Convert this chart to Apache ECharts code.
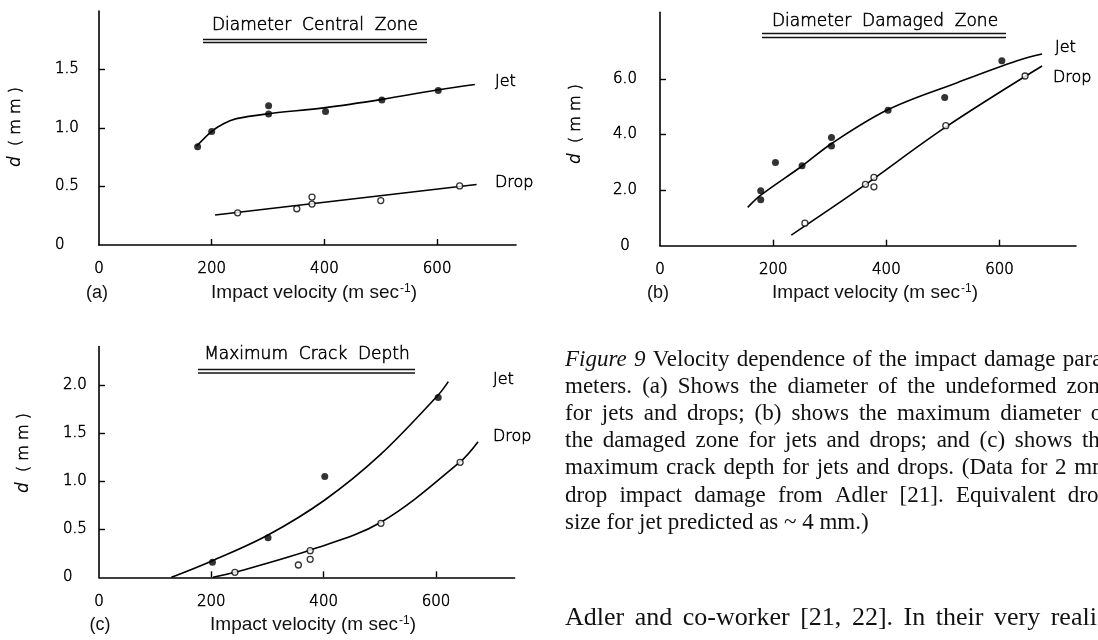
<!DOCTYPE html>
<html><head><meta charset="utf-8">
<script src="https://cdn.jsdelivr.net/npm/echarts@6/dist/echarts.min.js"></script>
<style>html,body{margin:0;padding:0;background:#fff}#c{width:1098px;height:640px}</style>
</head><body><div id="c"></div>
<script>
// ---------- data: panel (a) Diameter Central Zone ----------
const aJetV = [175, 200, 301, 301, 402, 502, 602];
const aJetD = [0.84, 0.97, 1.19, 1.12, 1.14, 1.24, 1.32];
const aDropV = [246, 351, 378, 378, 500, 640];
const aDropD = [0.275, 0.31, 0.41, 0.35, 0.38, 0.505];
const aJetFitV = [173, 200, 221, 244, 301, 402, 502, 602, 667];
const aJetFitD = [0.844, 0.972, 1.037, 1.08, 1.122, 1.174, 1.245, 1.327, 1.372];
const aDropFitV = [206, 670];
const aDropFitD = [0.256, 0.517];
// ---------- panel (b) Diameter Damaged Zone ----------
const bJetV = [178, 178, 204, 251, 303, 303, 403, 503, 604];
const bJetD = [1.98, 1.65, 3.0, 2.88, 3.90, 3.59, 4.88, 5.34, 6.66];
const bDropV = [256, 363, 378, 378, 505, 645];
const bDropD = [0.81, 2.21, 2.46, 2.12, 4.32, 6.11];
const bJetFitV = [155, 178, 251, 304, 404, 525, 631, 675];
const bJetFitD = [1.38, 1.82, 2.87, 3.69, 4.91, 5.87, 6.66, 6.90];
const bDropFitV = [232, 354, 504, 675];
const bDropFitD = [0.38, 2.07, 4.26, 6.47];
// ---------- panel (c) Maximum Crack Depth ----------
const cJetV = [202, 301, 402, 604];
const cJetD = [0.156, 0.41, 1.047, 1.87];
const cDropV = [242, 355, 376, 376, 502, 643];
const cDropD = [0.052, 0.128, 0.277, 0.187, 0.561, 1.196];
const cJetFitV = [129, 202, 301, 402, 500, 604, 622];
const cJetFitD = [0, 0.173, 0.44, 0.804, 1.27, 1.896, 2.035];
const cDropFitV = [203, 242, 376, 502, 643, 675];
const cDropFitD = [0, 0.052, 0.284, 0.572, 1.20, 1.41];
// ---------- ticks ----------
const xTicks = [200, 400, 600];
const xLabels = [0, 200, 400, 600];
const aYTicks = [0.5, 1.0, 1.5];
const aYLabels = [0, 0.5, 1.0, 1.5];
const bYTicks = [2, 4, 6];
const bYLabels = [0, 2, 4, 6];
const cYTicks = [0.5, 1.0, 1.5, 2.0];
const cYLabels = [0, 0.5, 1.0, 1.5, 2.0];
// ---------- texts ----------
const panelTitles = ['Diameter  Central  Zone', 'Diameter  Damaged  Zone', 'Maximum  Crack  Depth'];
const captionLines = [
  'Figure 9 Velocity dependence of the impact damage para-',
  'meters. (a) Shows the diameter of the undeformed zone',
  'for jets and drops; (b) shows the maximum diameter of',
  'the damaged zone for jets and drops; and (c) shows the',
  'maximum crack depth for jets and drops. (Data for 2 mm',
  'drop impact damage from Adler [21]. Equivalent drop',
  'size for jet predicted as ~ 4 mm.)'
];
const bodyLine = 'Adler and co-worker [21, 22]. In their very realistic';

const pair = (xs, ys) => xs.map((v, i) => [v, ys[i]]);
const LET = 'DejaVu Sans';
// thin stencil-like lettering: light face with a fine outline
const LETTER = {fontFamily: LET, fontWeight: 300, color: '#000', textBorderColor: '#000', textBorderWidth: 0.55};
const fmtY = v => v === 0 ? '0' : v.toFixed(1);

function xAx(gi, max) {
  return {
    gridIndex: gi, type: 'value', min: 0, max: max,
    axisLine: {lineStyle: {color: '#000', width: 1.6}},
    axisTick: {inside: true, length: 6, customValues: xTicks, lineStyle: {color: '#000', width: 1.4}},
    axisLabel: Object.assign({customValues: xLabels, margin: 17, fontSize: 15}, LETTER),
    splitLine: {show: false}
  };
}
function yAx(gi, max, ticks, labels, margin, align) {
  return {
    gridIndex: gi, type: 'value', min: 0, max: max,
    axisLine: {show: true, lineStyle: {color: '#000', width: 1.6}},
    axisTick: {show: true, inside: true, length: 6, customValues: ticks, lineStyle: {color: '#000', width: 1.4}},
    axisLabel: Object.assign({customValues: labels, margin: margin, align: align, formatter: fmtY,
      fontSize: 15, padding: [4, 0, 0, 0]}, LETTER),
    splitLine: {show: false}
  };
}
function fitLine(gi, xs, ys) {
  return {type: 'line', xAxisIndex: gi, yAxisIndex: gi, data: pair(xs, ys), smooth: 0.35,
    showSymbol: false, symbol: 'none', lineStyle: {color: '#000', width: 1.6}, silent: true, z: 2};
}
function filled(gi, xs, ys) {
  return {type: 'scatter', xAxisIndex: gi, yAxisIndex: gi, data: pair(xs, ys), symbol: 'circle',
    symbolSize: 7, itemStyle: {color: '#000'}, z: 3};
}
function open(gi, xs, ys) {
  return {type: 'scatter', xAxisIndex: gi, yAxisIndex: gi, data: pair(xs, ys), symbol: 'circle',
    symbolSize: 6, itemStyle: {color: '#fff', borderColor: '#000', borderWidth: 1.3}, z: 3};
}
function txt(x, y, text, font, extra) {
  return Object.assign({type: 'text', x: x, y: y, style: Object.assign({text: text, fill: '#111',
    textAlign: 'left', textVerticalAlign: 'middle', align: 'left', verticalAlign: 'middle'}, font)}, extra || {});
}
function ctr(x, y, text, font, extra) {
  const e = txt(x, y, text, font, extra);
  e.style.textAlign = 'center'; e.style.align = 'center';
  return e;
}
function hline(x1, x2, y) {
  return {type: 'line', shape: {x1: x1, y1: y, x2: x2, y2: y}, style: {stroke: '#111', lineWidth: 1.3}};
}
const letterStyle = size => ({fontFamily: LET, fontWeight: 300, fontSize: size, fill: '#000',
  stroke: '#000', lineWidth: 0.55});
const titleFont = letterStyle(17);
const tagFont = letterStyle(16);
const xNameFont = {fontFamily: 'Liberation Sans', fontSize: 19,
  rich: {sup: {fontFamily: 'Liberation Sans', fontSize: 12, verticalAlign: 'top', padding: [0, 0, 8, 1]}}};
const yNameFont = Object.assign(letterStyle(16),
  {rich: {i: {fontFamily: LET, fontWeight: 300, fontSize: 17, fontStyle: 'italic',
    fill: '#000', stroke: 'none', lineWidth: 0}}});
const xName = 'Impact velocity (m sec{sup|-1})';
const yName = '{i|d}  ( m m )';

const graphics = [
  // titles with double underline
  ctr(315, 26, panelTitles[0], titleFont), hline(203, 427, 39.5), hline(203, 427, 42.5),
  ctr(885, 22, panelTitles[1], titleFont), hline(762, 1006, 33.5), hline(762, 1006, 37.5),
  ctr(307, 355, panelTitles[2], titleFont), hline(198, 415, 369.5), hline(198, 415, 373),
  // series tags
  txt(495, 82, 'Jet', tagFont), txt(495, 183, 'Drop', tagFont),
  txt(1055, 48, 'Jet', tagFont), txt(1053, 78, 'Drop', tagFont),
  txt(493, 380, 'Jet', tagFont), txt(493, 437, 'Drop', tagFont),
  // axis names
  ctr(314, 293, xName, xNameFont), ctr(875, 293, xName, xNameFont), ctr(313, 625, xName, xNameFont),
  ctr(97, 293, '(a)', {fontFamily: 'Liberation Sans', fontSize: 18}),
  ctr(658, 293, '(b)', {fontFamily: 'Liberation Sans', fontSize: 18}),
  ctr(100, 625, '(c)', {fontFamily: 'Liberation Sans', fontSize: 18}),
  ctr(16, 127, yName, yNameFont, {rotation: Math.PI / 2}),
  ctr(576, 124, yName, yNameFont, {rotation: Math.PI / 2}),
  ctr(24, 453, yName, yNameFont, {rotation: Math.PI / 2})
];

// justified text lines (each word placed so that the line fills the column)
const mctx = document.createElement('canvas').getContext('2d');
function measure(w, size, italic) {
  mctx.font = (italic ? 'italic ' : '') + size + 'px "Liberation Serif"';
  return mctx.measureText(w).width;
}
function setLine(line, x0, x1, y, size, justify, italicN) {
  const words = line.split(' ');
  const widths = words.map((w, i) => measure(w, size, i < italicN));
  const total = widths.reduce((a, b) => a + b, 0);
  const gap = justify ? (x1 - x0 - total) / (words.length - 1) : measure(' ', size, false);
  let x = x0;
  words.forEach((w, i) => {
    graphics.push(txt(x, y, w, {fontFamily: 'Liberation Serif', fontSize: size, fill: '#111',
      fontStyle: i < italicN ? 'italic' : 'normal'}));
    x += widths[i] + gap;
  });
}
captionLines.forEach((line, i) =>
  setLine(line, 565, 1110, 360 + i * 27.1, 23, i < captionLines.length - 1, i === 0 ? 2 : 0));
setLine(bodyLine, 565, 1133, 618, 26, true, 0);

const chart = echarts.init(document.getElementById('c'), null, {renderer: 'canvas'});
chart.setOption({
  animation: false,
  backgroundColor: '#fff',
  grid: [
    {left: 99, top: 11, width: 417, height: 234},
    {left: 660, top: 12.4, width: 416, height: 233.3},
    {left: 99, top: 346.5, width: 415.6, height: 230.8}
  ],
  xAxis: [xAx(0, 740), xAx(1, 735), xAx(2, 740)],
  yAxis: [
    yAx(0, 2.0, aYTicks, aYLabels, 44, 'left'),
    yAx(1, 8.4, bYTicks, bYLabels, 35, 'center'),
    yAx(2, 2.4, cYTicks, cYLabels, 36, 'left')
  ],
  series: [
    fitLine(0, aJetFitV, aJetFitD), fitLine(0, aDropFitV, aDropFitD),
    filled(0, aJetV, aJetD), open(0, aDropV, aDropD),
    fitLine(1, bJetFitV, bJetFitD), fitLine(1, bDropFitV, bDropFitD),
    filled(1, bJetV, bJetD), open(1, bDropV, bDropD),
    fitLine(2, cJetFitV, cJetFitD), fitLine(2, cDropFitV, cDropFitD),
    filled(2, cJetV, cJetD), open(2, cDropV, cDropD)
  ],
  graphic: {elements: graphics}
});
</script></body></html>
